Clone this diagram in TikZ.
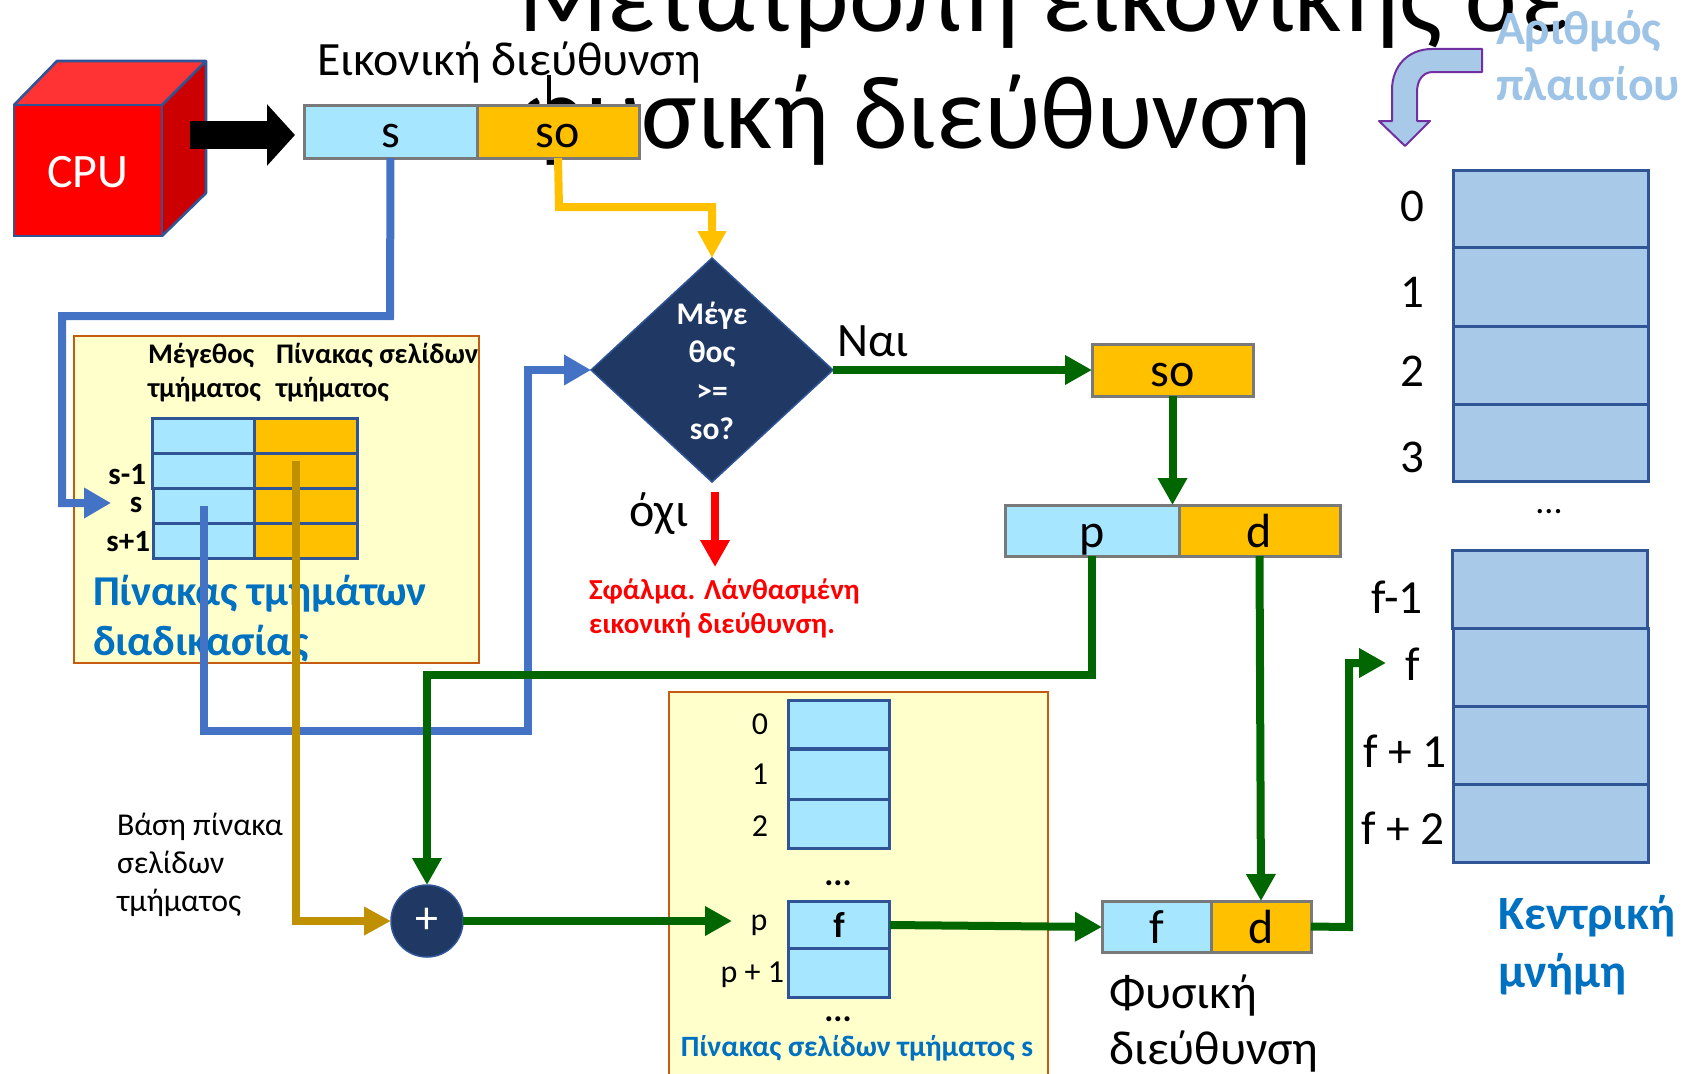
\documentclass[tikz,border=0pt]{standalone}
\usepackage{fontspec}
\setmainfont{Carlito}
\usetikzlibrary{arrows.meta,shapes.geometric}
\definecolor{cell}{HTML}{A6E6FF}
\definecolor{orng}{HTML}{FFC000}
\definecolor{cream}{HTML}{FFFFCC}
\definecolor{rust}{HTML}{C55A11}
\definecolor{navy}{HTML}{203864}
\definecolor{edgeblue}{HTML}{2F5597}
\definecolor{linkblue}{HTML}{4472C4}
\definecolor{gold}{HTML}{BF9000}
\definecolor{dgreen}{HTML}{006600}
\definecolor{mem}{HTML}{A9C9E8}
\definecolor{txtblue}{HTML}{0070C0}
\definecolor{paleblue}{HTML}{9DC3E6}
\definecolor{purp}{HTML}{7030A0}
\newcommand{\fsz}[2]{\fontsize{#1}{#2}\selectfont}
\tikzset{
  x=1pt,y=-1pt,
  lbl/.style={inner sep=0,outer sep=0,text=black},
  barbox/.style={draw=gray!95!black,line width=3pt,inner sep=0,outer sep=0,anchor=north west,text=black,font=\fsz{48}{52},text height=32pt,text depth=0pt},
  tcell/.style={draw=edgeblue,line width=3pt,inner sep=0,outer sep=0,anchor=north west,text=black},
  panel/.style={draw=rust,line width=2.2pt,fill=cream,inner sep=0,outer sep=0,anchor=north west},
  memcell/.style={draw=edgeblue,line width=3pt,fill=mem,inner sep=0,outer sep=0,anchor=north west,minimum width=195pt},
  link/.style={line width=8pt},
  bluelink/.style={link,draw=linkblue,-{Triangle[length=27pt,width=29pt]}},
  greenlink/.style={link,draw=dgreen,-{Triangle[length=27pt,width=28pt]}},
  goldlink/.style={link,draw=gold,-{Triangle[length=27pt,width=27pt]}},
  yellowlink/.style={link,draw=orng,-{Triangle[length=27pt,width=27pt]}},
  redlink/.style={link,draw=red,-{Triangle[length=27pt,width=28pt]}},
}
\newcommand{\cellat}[6]{\node[tcell,fill=#1,minimum width=#4 pt,minimum height=#5 pt] (#6) at (#2,#3) {};}
\begin{document}
\begin{tikzpicture}
\useasboundingbox (0,0) rectangle (1685,1073);
\clip (0,0) rectangle (1685,1073);
% title
\node[lbl,anchor=base west,font=\fsz{105}{110}] (title1) at (518,32) {Μετατροπή εικονικής σε};
\node[lbl,anchor=base west,font=\fsz{104.5}{110}] (title2) at (517,148) {φυσική διεύθυνση};
\draw[black,line width=4pt] (549,75) -- (549,110);
% CPU cube
\fill[red!80!black] (162,105) -- (206,61) -- (206,193) -- (162,236) -- cycle;
\fill[red!80!white] (14,105) -- (57,61) -- (206,61) -- (162,105) -- cycle;
\node[draw=edgeblue,line width=2.6pt,fill=red,inner sep=0,outer sep=0,anchor=north west,minimum width=148pt,minimum height=131pt,text=white,font=\fsz{48}{52},text height=33pt,text depth=0pt] (cpu) at (14,105) {CPU};
\draw[edgeblue,line width=2.6pt,line join=round] (14,105) -- (57,61) -- (206,61) -- (206,193) -- (162,236) (162,105) -- (206,61);
% virtual address
\node[barbox,fill=cell,minimum width=173pt,minimum height=53pt] (s) at (304,105) {s};
\node[barbox,fill=orng,minimum width=162pt,minimum height=53pt] (so) at (477,105) {so};
\node[lbl,anchor=base west,font=\fsz{47.8}{52}] (vaddr) at (317,75) {Εικονική διεύθυνση};
\coordinate (cpuout) at (190,135);
\coordinate (barin) at (295,135);
\draw[line width=28pt,black,-{Triangle[length=28pt,width=60pt]}] (cpuout) -- (barin);
% segment table panel
\node[panel,minimum width=405pt,minimum height=327pt] (segpanel) at (74,336) {};
\node[lbl,anchor=west,align=left,font=\bfseries\fsz{28.4}{34}] (sizehdr) at (148,373) {Μέγεθος\\τμήματος};
\node[lbl,anchor=west,align=left,font=\bfseries\fsz{28.4}{34}] (pthdr) at (276,373) {Πίνακας σελίδων\\τμήματος};
\cellat{cell}{152}{418}{102}{35}{a0}
\cellat{cell}{152}{453}{102}{35}{a1}
\cellat{cell}{153}{488}{101}{35}{a2}
\cellat{cell}{153}{523}{101}{35}{a3}
\cellat{orng}{254}{418}{103}{35}{b0}
\cellat{orng}{254}{453}{103}{35}{b1}
\cellat{orng}{254}{488}{103}{35}{b2}
\cellat{orng}{254}{523}{103}{35}{b3}
\node[lbl,anchor=east,font=\bfseries\fsz{31}{34}] (sm) at (146,475) {s-1};
\node[lbl,font=\bfseries\fsz{31}{34}] (ss) at (136,505) {s};
\node[lbl,anchor=east,font=\bfseries\fsz{31}{34}] (sp) at (150,542) {s+1};
\node[lbl,anchor=west,align=left,text=txtblue,font=\bfseries\fsz{42.5}{50}] (segname) at (93,619) {Πίνακας τμημάτων\\διαδικασίας};
% diamond
\node[diamond,draw=edgeblue,line width=1.5pt,fill=navy,inner sep=0,outer sep=0,minimum width=242pt,minimum height=224pt,aspect=1.08] (dec) at (712,370) {};
\node[lbl,text=white,align=center,font=\bfseries\fsz{31.5}{38.3}] (dectxt) at (712,371) {Μέγε\\θος\\>=\\so?};
% offset path
\node[barbox,fill=orng,minimum width=161pt,minimum height=52pt] (so2) at (1092,344) {so};
\node[barbox,fill=cell,minimum width=174pt,minimum height=51pt,text height=34pt] (p) at (1005,505) {p};
\node[barbox,fill=orng,minimum width=161pt,minimum height=51pt,text height=34pt] (d) at (1179,505) {d};
\node[lbl,font=\fsz{48}{52}] (yes) at (873,341) {Ναι};
\node[lbl,font=\fsz{48}{52}] (no) at (659,514) {όχι};
\coordinate (errtop) at (715,492);
\coordinate (errtip) at (715,567);
\node[lbl,anchor=west,align=left,text=red,font=\bfseries\fsz{29}{34}] (err) at (589,608) {Σφάλμα. Λάνθασμένη\\εικονική διεύθυνση.};
% page table panel
\node[panel,minimum width=379pt,minimum height=400pt] (pgpanel) at (669,692) {};
\cellat{cell}{788}{700}{101}{48}{c0}
\cellat{cell}{788}{749}{101}{50}{c1}
\cellat{cell}{788}{799}{101}{49}{c2}
\cellat{cell}{788}{901}{101}{47}{cf}
\cellat{cell}{788}{948}{101}{49}{cg}
\node[lbl,font=\bfseries\fsz{36}{40}] (ftxt) at (839,925) {f};
\node[lbl,font=\fsz{32}{36}] (n0) at (760,724) {0};
\node[lbl,font=\fsz{32}{36}] (n1) at (760,774) {1};
\node[lbl,font=\fsz{32}{36}] (n2) at (760,826) {2};
\node[lbl,font=\fsz{32}{36}] (np) at (759,925) {p};
\node[lbl,anchor=east,font=\fsz{32}{36}] (np1) at (784,975) {p + 1};
\node[lbl,font=\bfseries\fsz{34}{40}] (dots1) at (838,883) {...};
\node[lbl,font=\bfseries\fsz{34}{40}] (dots2) at (838,1019) {...};
\node[lbl,text=txtblue,font=\bfseries\fsz{29.5}{34}] (pgname) at (857,1048) {Πίνακας σελίδων τμήματος s};
% adder
\node[circle,draw=edgeblue,line width=1.5pt,fill=navy,text=white,inner sep=0,outer sep=0,minimum size=72pt,font=\fsz{46}{48}] (add) at (427,921) {+};
\node[lbl,anchor=west,align=left,font=\fsz{31.8}{38}] (base) at (117,865) {Βάση πίνακα\\σελίδων\\τμήματος};
% physical address
\node[barbox,fill=cell,minimum width=109pt,minimum height=51pt,text height=34pt] (f2) at (1102,901) {f};
\node[barbox,fill=orng,minimum width=100pt,minimum height=51pt,text height=34pt] (d2) at (1211,901) {d};
\node[lbl,anchor=west,align=left,font=\fsz{47.8}{56}] (paddr) at (1109,1024) {Φυσική\\διεύθυνση};
% memory
\node[memcell,minimum height=77pt] (m0) at (1453,170) {};
\node[memcell,minimum height=79pt] (m1) at (1453,247) {};
\node[memcell,minimum height=78pt] (m2) at (1453,326) {};
\node[memcell,minimum height=77pt] (m3) at (1453,404) {};
\node[memcell,minimum height=78pt] (m4) at (1452,550) {};
\node[memcell,minimum height=78pt] (m5) at (1453,628) {};
\node[memcell,minimum height=78pt] (m6) at (1453,706) {};
\node[memcell,minimum height=78pt] (m7) at (1453,784) {};
\node[lbl,font=\fsz{47}{52}] (l0) at (1412,206) {0};
\node[lbl,font=\fsz{47}{52}] (l1) at (1412,292) {1};
\node[lbl,font=\fsz{47}{52}] (l2) at (1412,371) {2};
\node[lbl,font=\fsz{47}{52}] (l3) at (1412,457) {3};
\node[lbl,font=\fsz{36}{40}] (ldots) at (1549,512) {...};
\node[lbl,font=\fsz{47.5}{52}] (lf1) at (1397,597) {f-1};
\node[lbl,font=\fsz{47.5}{52}] (lf) at (1413,664) {f};
\node[lbl,font=\fsz{47.5}{52}] (lf2) at (1405,751) {f + 1};
\node[lbl,font=\fsz{47.5}{52}] (lf3) at (1403,828) {f + 2};
\node[lbl,anchor=west,align=left,text=txtblue,font=\bfseries\fsz{47.8}{58}] (memname) at (1498,945) {Κεντρική\\μνήμη};
\node[lbl,anchor=west,align=left,text=paleblue,font=\bfseries\fsz{47.8}{56}] (fname) at (1496,56) {Αριθμός\\πλαισίου};
% bent arrow
\draw[purp,line width=2pt,fill=mem,line join=round] (1482,49) -- (1432,49) .. controls (1408,49) and (1392,66) .. (1392,90) -- (1392,121) -- (1379,121) -- (1405,146) -- (1430,121) -- (1417,121) -- (1417,92) .. controls (1417,80) and (1423,72) .. (1433,72) -- (1482,72) -- cycle;
% connectors
\coordinate (blue1) at (390,316);
\coordinate (blue2) at (62,316);
\coordinate (blue3) at (62,503);
\coordinate (bluetip) at (111,503);
\draw[bluelink] (s.south) -- (blue1) -- (blue2) -- (blue3) -- (bluetip);
\coordinate (yel1) at (559,207);
\coordinate (yel2) at (712,207);
\draw[yellowlink] (so.south) -- (yel1) -- (yel2) -- (dec.north);
\coordinate (b1) at (204,506);
\coordinate (b2) at (204,731);
\coordinate (b3) at (528,731);
\coordinate (b4) at (528,370);
\draw[bluelink] (b1) -- (b2) -- (b3) -- (b4) -- (dec.west);
\coordinate (g1) at (296,461);
\coordinate (g2) at (296,921);
\draw[goldlink] (g1) -- (g2) -- (add.west);
\draw[greenlink] (dec.east) -- (so2.west);
\draw[greenlink] (so2.south) -- (p.north -| so2.south);
\draw[redlink] (errtop) -- (errtip);
\coordinate (pr1) at (1092,675);
\coordinate (pr2) at (427,675);
\draw[greenlink] (p.south) -- (pr1) -- (pr2) -- (add.north);
\coordinate (pin) at (732,921);
\draw[greenlink] (add.east) -- (pin);
\coordinate (fout) at (890,925);
\coordinate (fin) at (1102,927);
\draw[greenlink] (fout) -- (fin);
\draw[greenlink] (d.south) -- (d2.north);
\coordinate (m1c) at (1349,927);
\coordinate (m2c) at (1349,663);
\coordinate (mtip) at (1386,663);
\draw[greenlink] (d2.east) -- (m1c) -- (m2c) -- (mtip);
\end{tikzpicture}
\end{document}
